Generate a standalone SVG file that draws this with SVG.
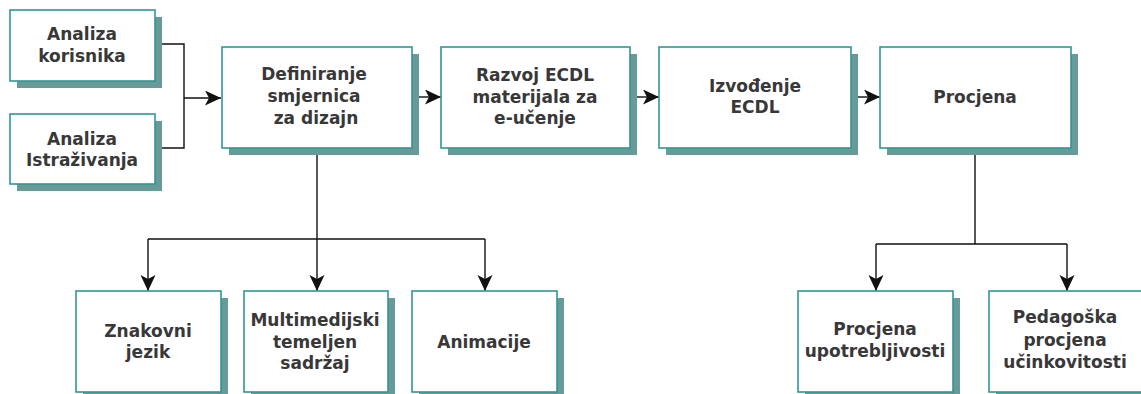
<svg xmlns="http://www.w3.org/2000/svg" width="1141" height="394" viewBox="0 0 1141 394">
<defs>
<style>
.box{fill:#ffffff;stroke:#2e9896;stroke-width:1.6}
.sh{fill:#6a9a97}
.t{font-family:"DejaVu Sans",Verdana,sans-serif;font-weight:bold;font-size:17px;fill:#383838;text-anchor:middle}
.c{fill:none;stroke:#111;stroke-width:1.4}
</style>
<marker id="ah" markerWidth="18" markerHeight="16" refX="16" refY="7.5" orient="auto" markerUnits="userSpaceOnUse">
<path d="M0,0 L16,7.5 L0,15 L4,7.5 Z" fill="#111"/>
</marker>
</defs>
<rect width="1141" height="394" fill="#ffffff"/>
<g id="connectors">
<path class="c" d="M155,44 H184 V148 H155"/>
<path class="c" d="M184,98 H221" marker-end="url(#ah)"/>
<path class="c" d="M412,97 H441" marker-end="url(#ah)"/>
<path class="c" d="M630,97 H659" marker-end="url(#ah)"/>
<path class="c" d="M851,97 H880" marker-end="url(#ah)"/>
<path class="c" d="M317,148 V239"/>
<path class="c" d="M148,239 H485"/>
<path class="c" d="M148,239 V291" marker-end="url(#ah)"/>
<path class="c" d="M317,239 V291" marker-end="url(#ah)"/>
<path class="c" d="M485,239 V291" marker-end="url(#ah)"/>
<path class="c" d="M975,148 V244 M876,244 H1067"/>
<path class="c" d="M876,244 V291" marker-end="url(#ah)"/>
<path class="c" d="M1067,244 V291" marker-end="url(#ah)"/>
</g>
<g id="n1"><rect class="sh" x="17" y="17" width="145" height="71"/><rect class="box" x="10" y="10" width="145" height="71"/><text class="t" x="82" y="40">Analiza</text><text class="t" x="82" y="62">korisnika</text></g>
<g id="n2"><rect class="sh" x="17" y="121" width="145" height="70"/><rect class="box" x="10" y="114" width="145" height="70"/><text class="t" x="82" y="145">Analiza</text><text class="t" x="82" y="166">Istraživanja</text></g>
<g id="n3"><rect class="sh" x="229" y="54" width="190" height="101"/><rect class="box" x="222" y="47" width="190" height="101"/><text class="t" x="314" y="80">Definiranje</text><text class="t" x="314" y="102">smjernica</text><text class="t" x="316" y="124">za dizajn</text></g>
<g id="n4"><rect class="sh" x="448" y="54" width="189" height="101"/><rect class="box" x="441" y="47" width="189" height="101"/><text class="t" x="535" y="81">Razvoj ECDL</text><text class="t" x="535" y="103">materijala za</text><text class="t" x="535" y="124">e-učenje</text></g>
<g id="n5"><rect class="sh" x="666" y="54" width="192" height="101"/><rect class="box" x="659" y="47" width="192" height="101"/><text class="t" x="755" y="92">Izvođenje</text><text class="t" x="755" y="113">ECDL</text></g>
<g id="n6"><rect class="sh" x="887" y="54" width="191" height="101"/><rect class="box" x="880" y="47" width="191" height="101"/><text class="t" x="975" y="103">Procjena</text></g>
<g id="n7"><rect class="sh" x="83" y="298" width="145" height="101"/><rect class="box" x="76" y="291" width="145" height="101"/><text class="t" x="148" y="337">Znakovni</text><text class="t" x="148" y="358">jezik</text></g>
<g id="n8"><rect class="sh" x="251" y="298" width="144" height="101"/><rect class="box" x="244" y="291" width="144" height="101"/><text class="t" x="315" y="326">Multimedijski</text><text class="t" x="315" y="348">temeljen</text><text class="t" x="315" y="369">sadržaj</text></g>
<g id="n9"><rect class="sh" x="419" y="298" width="145" height="101"/><rect class="box" x="412" y="291" width="145" height="101"/><text class="t" x="484" y="348">Animacije</text></g>
<g id="n10"><rect class="sh" x="805" y="298" width="155" height="101"/><rect class="box" x="798" y="291" width="155" height="101"/><text class="t" x="875" y="335">Procjena</text><text class="t" x="875" y="357">upotrebljivosti</text></g>
<g id="n11"><rect class="sh" x="996" y="298" width="155" height="101"/><rect class="box" x="989" y="291" width="155" height="101"/><text class="t" x="1065" y="323">Pedagoška</text><text class="t" x="1065" y="346">procjena</text><text class="t" x="1065" y="368">učinkovitosti</text></g>
</svg>
